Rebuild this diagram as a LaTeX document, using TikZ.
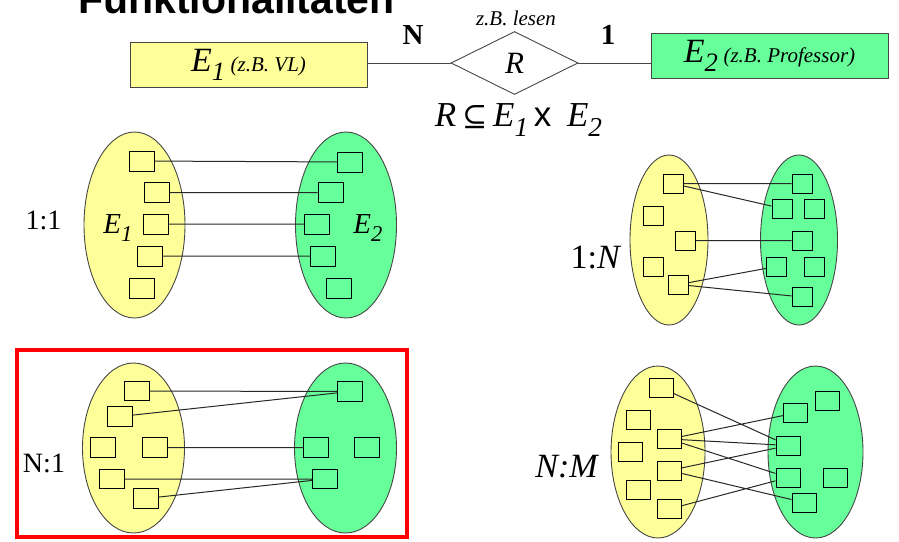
\documentclass[tikz,border=0pt]{standalone}
\usepackage{fontspec}
\setmainfont{Liberation Serif}
\newfontfamily\headfont{Liberation Sans}
\newfontfamily\symfont{DejaVu Serif}
\usetikzlibrary{shapes.geometric}
\definecolor{setyellow}{RGB}{255,255,153}
\definecolor{setgreen}{RGB}{102,255,153}
\definecolor{setrim}{RGB}{70,70,70}
\definecolor{pairlink}{RGB}{40,40,40}
\definecolor{focusred}{RGB}{255,0,0}
\newcommand{\fsz}[1]{\fontsize{#1}{#1}\selectfont}
\newcommand{\ent}[2]{\textit{#1}\raisebox{-0.27em}{\scalebox{0.78}{\textit{#2}}}}
\newcommand{\elbox}[4]{%
  % one element of a set, placed at pixel coordinates
  \node[#4] (#1) at (#2,#3) {};
}

\begin{document}
\begin{tikzpicture}[x=1pt,y=-1pt,
    entity/.style={draw=setrim,line width=1pt,minimum width=237pt,minimum height=45pt,inner sep=0pt},
    relation/.style={diamond,draw=setrim,line width=0.9pt,aspect=2,minimum width=127pt,minimum height=63pt,inner sep=0pt},
    erlink/.style={draw=setrim,line width=0.9pt},
    setshape/.style={ellipse,draw=setrim,line width=0.9pt,inner sep=0pt},
    elem/.style={draw=black,line width=1pt,inner sep=0pt},
    bigbox/.style={elem,minimum width=25pt,minimum height=20pt},
    midbox/.style={elem,minimum width=24pt,minimum height=19pt},
    smallbox/.style={elem,minimum width=20pt,minimum height=19pt},
    pair/.style={draw=pairlink,line width=1pt}]
    \useasboundingbox (0,0) rectangle (899,541);

    % heading, cut by the top edge
    \node[anchor=base west,inner sep=0pt,font=\headfont\bfseries\fsz{41}] (title) at (78,13) {Funktionalitäten};

    % ER sketch
    \node[entity,fill=setyellow] (ent1) at (248.5,64.5)
      {\fsz{34}\ent{E}{1}\,{\fsz{21}\itshape(z.B. VL)}};
    \node[relation] (rel) at (514.5,63) {\fsz{31}\textit{R}};
    \node[entity,fill=setgreen] (ent2) at (769.5,56)
      {\fsz{34}\ent{E}{2}\,{\fsz{21}\itshape(z.B. Professor)}};
    \draw[erlink] (ent1.east |- rel.west) -- (rel.west);
    \draw[erlink] (rel.east) -- (ent2.west |- rel.east);
    \node[font=\itshape\fsz{21}] (relname) at (516,18) {z.B. lesen};
    \node[font=\bfseries\fsz{29}] (cardN) at (413,35) {N};
    \node[font=\bfseries\fsz{29}] (card1) at (608,35) {1};
    \node[font=\fsz{35}] (subset) at (518.5,120)
      {\textit{R}\,{\symfont\fsz{30}⊆}\,\ent{E}{1}\,{\headfont x}\;\,\ent{E}{2}};

    % 1:1
    \node[setshape,fill=setyellow,minimum width=101pt,minimum height=186pt] (ooA) at (134.5,225) {};
    \node[setshape,fill=setgreen,minimum width=101pt,minimum height=186pt] (ooB) at (346,225) {};
    \node[font=\fsz{28}] (oolbl) at (43.5,220) {1:1};
    \node[font=\fsz{29}] (ooAname) at (118,228) {\ent{E}{1}};
    \node[font=\fsz{29}] (ooBname) at (368,228) {\ent{E}{2}};
    \elbox{ooa1}{141.5}{161}{bigbox,fill=setyellow}
    \elbox{ooa2}{157}{192.5}{bigbox,fill=setyellow}
    \elbox{ooa3}{155.5}{224}{bigbox,fill=setyellow}
    \elbox{ooa4}{150}{256}{bigbox,fill=setyellow}
    \elbox{ooa5}{141.5}{288}{bigbox,fill=setyellow}
    \elbox{oob1}{350}{162}{bigbox,fill=setgreen}
    \elbox{oob2}{330.5}{192.5}{bigbox,fill=setgreen}
    \elbox{oob3}{317}{224}{bigbox,fill=setgreen}
    \elbox{oob4}{323}{256}{bigbox,fill=setgreen}
    \elbox{oob5}{338.5}{288}{bigbox,fill=setgreen}
    \draw[pair] (ooa1) -- (oob1) (ooa2) -- (oob2) (ooa3) -- (oob3) (ooa4) -- (oob4);

    % 1:N
    \node[setshape,fill=setyellow,minimum width=78pt,minimum height=170pt] (onA) at (669,240) {};
    \node[setshape,fill=setgreen,minimum width=77pt,minimum height=170pt] (onB) at (799,240) {};
    \node[font=\fsz{34}] (onlbl) at (596,258) {1:\textit{N}};
    \elbox{ona1}{673}{183.5}{smallbox,fill=setyellow}
    \elbox{ona2}{653}{215.5}{smallbox,fill=setyellow}
    \elbox{ona3}{685.5}{240.5}{smallbox,fill=setyellow}
    \elbox{ona4}{653}{266.5}{smallbox,fill=setyellow}
    \elbox{ona5}{678.5}{284.5}{smallbox,fill=setyellow}
    \elbox{onb1}{802}{183.5}{smallbox,fill=setgreen}
    \elbox{onb2}{782}{208.5}{smallbox,fill=setgreen}
    \elbox{onb3}{814.5}{208.5}{smallbox,fill=setgreen}
    \elbox{onb4}{802}{240.5}{smallbox,fill=setgreen}
    \elbox{onb5}{776.5}{266.5}{smallbox,fill=setgreen}
    \elbox{onb6}{814.5}{266.5}{smallbox,fill=setgreen}
    \elbox{onb7}{802}{297}{smallbox,fill=setgreen}
    \draw[pair] (ona1) -- (onb1) (ona1) -- (onb2) (ona3) -- (onb4)
      (ona5) -- (onb5) (ona5) -- (onb7);

    % N:1, framed
    \node[draw=focusred,line width=3.5pt,minimum width=390pt,minimum height=187pt,inner sep=0pt] (focus) at (212,443.5) {};
    \node[setshape,fill=setyellow,minimum width=102pt,minimum height=170pt] (noA) at (133.5,448) {};
    \node[setshape,fill=setgreen,minimum width=102pt,minimum height=170pt] (noB) at (345.5,448) {};
    \node[font=\fsz{28}] (nolbl) at (44,463) {N:1};
    \elbox{noa1}{137}{391}{bigbox,minimum height=19.5pt,fill=setyellow}
    \elbox{noa2}{120}{416.5}{bigbox,minimum height=19.5pt,fill=setyellow}
    \elbox{noa3}{103}{447.5}{bigbox,minimum height=19.5pt,fill=setyellow}
    \elbox{noa4}{154.5}{447.5}{bigbox,minimum height=19.5pt,fill=setyellow}
    \elbox{noa5}{111.5}{479}{bigbox,minimum height=19.5pt,fill=setyellow}
    \elbox{noa6}{145.5}{498.5}{bigbox,minimum height=19.5pt,fill=setyellow}
    \elbox{nob1}{350}{391.5}{bigbox,minimum height=19.5pt,fill=setgreen}
    \elbox{nob2}{316}{447.5}{bigbox,minimum height=19.5pt,fill=setgreen}
    \elbox{nob3}{367}{447.5}{bigbox,minimum height=19.5pt,fill=setgreen}
    \elbox{nob4}{325}{479}{bigbox,minimum height=19.5pt,fill=setgreen}
    \draw[pair] (noa1) -- (nob1) (noa2) -- (nob1) (noa4) -- (nob2)
      (noa5) -- (nob4) (noa6) -- (nob4);

    % N:M
    \node[setshape,fill=setyellow,minimum width=94pt,minimum height=172pt] (nmA) at (658,452) {};
    \node[setshape,fill=setgreen,minimum width=95pt,minimum height=172pt] (nmB) at (815.5,452) {};
    \node[font=\itshape\fsz{34}] (nmlbl) at (566.5,467) {N:M};
    \elbox{nma1}{661.5}{388}{midbox,fill=setyellow}
    \elbox{nma2}{638}{419.5}{midbox,fill=setyellow}
    \elbox{nma3}{669.5}{439}{midbox,fill=setyellow}
    \elbox{nma4}{630.5}{451.5}{midbox,fill=setyellow}
    \elbox{nma5}{669.5}{470.5}{midbox,fill=setyellow}
    \elbox{nma6}{638}{489.5}{midbox,fill=setyellow}
    \elbox{nma7}{669.5}{509}{midbox,fill=setyellow}
    \elbox{nmb1}{827.5}{401}{midbox,fill=setgreen}
    \elbox{nmb2}{795.5}{413}{midbox,fill=setgreen}
    \elbox{nmb3}{788}{445.5}{midbox,fill=setgreen}
    \elbox{nmb4}{788}{477.5}{midbox,fill=setgreen}
    \elbox{nmb5}{835}{477.5}{midbox,fill=setgreen}
    \elbox{nmb6}{804}{502.5}{midbox,fill=setgreen}
    \draw[pair] (nma1) -- (nmb3) (nma3) -- (nmb2) (nma3) -- (nmb3) (nma3) -- (nmb4)
      (nma5) -- (nmb3) (nma5) -- (nmb6) (nma7) -- (nmb4);
\end{tikzpicture}
\end{document}
